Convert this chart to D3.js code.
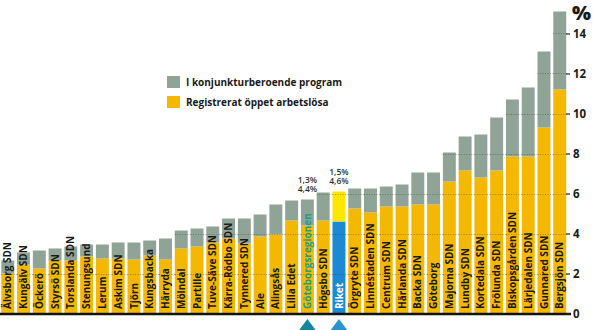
<!DOCTYPE html>
<html>
<head>
<meta charset="utf-8">
<script src="https://cdn.jsdelivr.net/npm/d3@7"></script>
<style>
  html, body { margin: 0; padding: 0; background: #fff; }
  svg { display: block; }
  text { font-family: "Open Sans", Lato, sans-serif; }
</style>
</head>
<body>
<svg id="chart" width="594" height="330"></svg>
<script>
// Areas, ordered by total share
const categories = [
  "Älvsborg SDN", "Kungälv SDN", "Öckerö", "Styrsö SDN", "Torslanda SDN", "Stenungsund",
  "Lerum", "Askim SDN", "Tjörn", "Kungsbacka", "Härryda", "Mölndal", "Partille",
  "Tuve-Säve SDN", "Kärra-Rödbo SDN", "Tynnered SDN", "Ale", "Alingsås", "Lilla Edet",
  "Göteborgsregionen", "Högsbo SDN", "Riket", "Örgryte SDN", "Linnéstaden SDN",
  "Centrum SDN", "Härlanda SDN", "Backa SDN", "Göteborg", "Majorna SDN", "Lundby SDN",
  "Kortedala SDN", "Frölunda SDN", "Biskopsgården SDN", "Lärjedalen SDN",
  "Gunnared SDN", "Bergsjön SDN"
];

// Registrerat öppet arbetslösa (%)
const openUnemployed = [
  2.0, 2.45, 2.25, 2.65, 2.65, 2.85, 2.75, 2.75, 2.7, 2.9, 2.7, 3.25, 3.35,
  3.55, 3.75, 3.5, 3.85, 3.95, 4.65, 4.4, 4.65, 4.6, 5.25, 5.05,
  5.35, 5.35, 5.45, 5.45, 6.6, 7.15, 6.8, 7.15, 7.85, 7.85, 9.3, 11.2
];

// I konjunkturberoende program (%)
const inPrograms = [
  0.65, 0.6, 0.9, 0.6, 0.7, 0.6, 0.7, 0.8, 0.85, 0.75, 1.05, 0.9, 0.9,
  0.8, 1.0, 1.25, 1.1, 1.5, 1.0, 1.3, 1.4, 1.5, 1.0, 1.2,
  1.0, 1.1, 1.6, 1.6, 1.45, 1.7, 2.15, 2.65, 2.85, 3.45, 3.8, 3.9
];

const yTicks = [0, 2, 4, 6, 8, 10, 12, 14];
const legendLabels = ["I konjunkturberoende program", "Registrerat öppet arbetslösa"];
const labelledAreas = ["Göteborgsregionen", "Riket"];   // value labels + markers
const nationLabel = "Riket";
const regionLabel = "Göteborgsregionen";

const colors = {
  program: "#8fa396",
  open: "#f5b800",
  nationOpen: "#1b8ad2",
  nationProgram: "#ffe600",
  regionText: "#1c9e8c",
  markerRegion: "#16879b",
  markerNation: "#2594d0",
  text: "#1a1a1a"
};

const rows = categories.map((c, i) => ({
  name: c, open: openUnemployed[i], prog: inPrograms[i], total: openUnemployed[i] + inPrograms[i]
}));

const svg = d3.select("#chart");
const baseY = 313.5;

const x = d3.scaleBand().domain(categories).range([0.5, 567]).paddingInner(0.18).paddingOuter(0.05);
const y = d3.scaleLinear().domain([0, 15]).range([baseY, baseY - 300]);

const fmt = v => d3.format(".1f")(v).replace(".", ",") + "%";

// Stacked bars
const bars = svg.append("g");
bars.selectAll("rect.open").data(rows).join("rect")
  .attr("x", d => x(d.name)).attr("width", x.bandwidth())
  .attr("y", d => y(d.open)).attr("height", d => y(0) - y(d.open))
  .attr("fill", d => d.name === nationLabel ? colors.nationOpen : colors.open);
bars.selectAll("rect.prog").data(rows).join("rect")
  .attr("x", d => x(d.name)).attr("width", x.bandwidth())
  .attr("y", d => y(d.total)).attr("height", d => y(d.open) - y(d.total))
  .attr("fill", d => d.name === nationLabel ? colors.nationProgram : colors.program);

// Dotted grid lines running through the bars
const grid = svg.append("g").attr("stroke", "#3a3a3a").attr("stroke-width", 0.8)
  .attr("stroke-dasharray", "1,1.5").attr("opacity", 0.55);
rows.forEach((d, i) => {
  yTicks.filter(t => t > 0 && t < d.total).forEach(t => {
    const x0 = x(d.name);
    const x1 = i < rows.length - 1 ? x(categories[i + 1]) : 567;
    grid.append("line").attr("x1", x0).attr("x2", x1)
      .attr("y1", Math.round(y(t)) + 0.5).attr("y2", Math.round(y(t)) + 0.5);
  });
});

// Category labels, vertical inside the bars
svg.append("g").selectAll("text").data(rows).join("text")
  .attr("transform", d => `translate(${x(d.name) + x.bandwidth() / 2},309) rotate(-90)`)
  .attr("dy", "0.36em")
  .attr("font-size", 10).attr("font-weight", 700)
  .attr("fill", d => d.name === nationLabel ? "#fff" : d.name === regionLabel ? colors.regionText : colors.text)
  .text(d => d.name);

// Value labels above the two reference bars
rows.filter(d => labelledAreas.includes(d.name)).forEach(d => {
  const cx = x(d.name) + x.bandwidth() / 2;
  const g = svg.append("g").attr("font-size", 8.5).attr("font-weight", 600)
    .attr("fill", "#333").attr("text-anchor", "middle");
  g.append("text").attr("x", cx).attr("y", y(d.total) - 17).text(fmt(d.prog));
  g.append("text").attr("x", cx).attr("y", y(d.total) - 7.5).text(fmt(d.open));
});

// Markers under the reference bars
rows.filter(d => labelledAreas.includes(d.name)).forEach(d => {
  const cx = x(d.name) + x.bandwidth() / 2;
  svg.append("path")
    .attr("d", `M${cx - 9},331 L${cx},319 L${cx + 9},331 Z`)
    .attr("fill", d.name === nationLabel ? colors.markerNation : colors.markerRegion);
});

// Zero line
svg.append("line").attr("x1", 0).attr("x2", 571).attr("y1", baseY + 0.5).attr("y2", baseY + 0.5)
  .attr("stroke", "#111").attr("stroke-width", 2.5);

// Right-hand axis
const axis = svg.append("g").attr("transform", "translate(566,0)")
  .call(d3.axisRight(y).tickValues(yTicks).tickSize(4).tickPadding(3).tickFormat(d3.format("d")));
axis.select(".domain").remove();
axis.selectAll(".tick line").attr("stroke", "#222").attr("stroke-width", 1.2);
axis.selectAll(".tick text").attr("font-family", "'Open Sans', sans-serif").attr("font-size", 11.5)
  .attr("font-weight", 700).attr("fill", colors.text);

svg.append("text").attr("x", 591).attr("y", 20).attr("text-anchor", "end")
  .attr("font-size", 20).attr("font-weight", 800).attr("fill", colors.text).text("%");

// Legend
const legend = svg.append("g").attr("transform", "translate(167,76)");
[colors.program, colors.open].forEach((c, i) => {
  legend.append("rect").attr("x", 0).attr("y", i * 20).attr("width", 13).attr("height", 12).attr("fill", c);
  legend.append("text").attr("x", 19).attr("y", i * 20 + 10).attr("font-size", 10)
    .attr("font-weight", 700).attr("fill", colors.text).text(legendLabels[i]);
});
</script>
</body>
</html>
